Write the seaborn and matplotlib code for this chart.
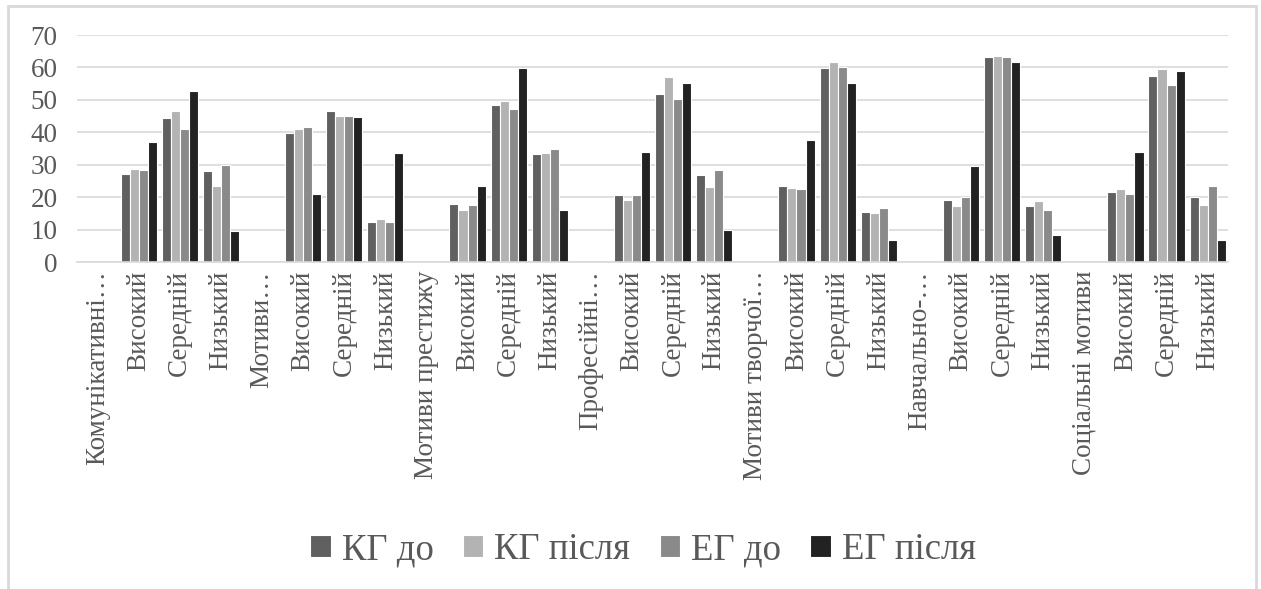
import pandas as pd
import numpy as np
import matplotlib.pyplot as plt
import seaborn as sns
from matplotlib.patches import Rectangle

sns.set_style("white")
plt.rcParams["font.family"] = ["Liberation Serif", "DejaVu Serif"]

# data
groups = ["Комунікативні…", "Мотиви…", "Мотиви престижу", "Професійні…",
          "Мотиви творчої…", "Навчально-…", "Соціальні мотиви"]
levels = ["Високий", "Середній", "Низький"]
series = ["КГ до", "КГ після", "ЕГ до", "ЕГ після"]
colors = ["#606060", "#b3b3b3", "#8a8a8a", "#222222"]

kg_do = [27.2, 44.4, 28.0, 39.9, 46.7, 12.4, 18.0, 48.3, 33.2, 20.8, 51.9, 26.7,
         23.6, 59.9, 15.5, 19.2, 63.1, 17.2, 21.6, 57.5, 20.0]
kg_pislya = [28.7, 46.7, 23.6, 41.1, 45.1, 13.2, 16.0, 49.8, 33.6, 19.2, 57.1, 23.2,
             22.8, 61.6, 15.2, 17.2, 63.5, 18.8, 22.4, 59.5, 17.6]
eg_do = [28.4, 41.1, 29.9, 41.6, 45.1, 12.4, 17.6, 47.2, 34.8, 20.8, 50.4, 28.4,
         22.4, 60.3, 16.8, 20.0, 63.1, 16.0, 21.1, 54.7, 23.6]
eg_pislya = [37.1, 52.7, 9.6, 21.1, 44.8, 33.6, 23.6, 59.9, 16.0, 34.0, 55.1, 9.9,
             37.6, 55.1, 6.8, 29.6, 61.6, 8.4, 34.0, 58.8, 6.8]
values = [kg_do, kg_pislya, eg_do, eg_pislya]

# build long table: each group gets a header category (no bars) + 3 levels
labels, keys, rows = [], [], []
for g, grp in enumerate(groups):
    labels.append(grp)
    keys.append(f"{g}-h")
    for s, name in enumerate(series):
        rows.append({"cat": f"{g}-h", "series": name, "value": np.nan})
    for l, lvl in enumerate(levels):
        labels.append(lvl)
        keys.append(f"{g}-{l}")
        for s, name in enumerate(series):
            rows.append({"cat": f"{g}-{l}", "series": name, "value": values[s][g * 3 + l]})
df = pd.DataFrame(rows)

text_col = "#595959"
fig = plt.figure(figsize=(12.61, 5.89), dpi=100)
ax = fig.add_axes([0.061, 0.555, 0.913, 0.3855])

sns.barplot(data=df, x="cat", y="value", hue="series", order=keys, hue_order=series,
            palette=colors, width=0.88, edgecolor="white", linewidth=0.8,
            saturation=1, errorbar=None, ax=ax)

ax.set_ylim(0, 70)
ax.set_yticks(range(0, 71, 10))
ax.yaxis.grid(True, color="#d9d9d9", linewidth=1.2)
ax.set_axisbelow(True)
for side in ["top", "right", "left"]:
    ax.spines[side].set_visible(False)
ax.spines["bottom"].set_color("#d9d9d9")
ax.spines["bottom"].set_linewidth(1.2)
ax.set_xlim(-0.5, len(keys) - 0.5)
ax.set_xticks(range(len(keys)))
ax.set_xticklabels(labels, rotation=90, fontsize=19.5, color=text_col)
ax.tick_params(axis="both", length=0, pad=6)
ax.tick_params(axis="y", labelsize=19.5, labelcolor=text_col, pad=14)
ax.set_xlabel("")
ax.set_ylabel("")

ax.legend(loc="center", bbox_to_anchor=(0.51, 0.066), bbox_transform=fig.transFigure,
          ncol=4, frameon=False, fontsize=26.5, handlelength=0.55, handleheight=0.55,
          handletextpad=0.3, columnspacing=0.8, labelcolor=text_col)

# chart-area border
fig.patches.append(Rectangle((8 / 1261, -0.05), 1248 / 1261, 1 - 6 / 589 + 0.05,
                             transform=fig.transFigure, fill=False,
                             edgecolor="#d9d9d9", linewidth=2))

plt.savefig("out.png", dpi=100)
